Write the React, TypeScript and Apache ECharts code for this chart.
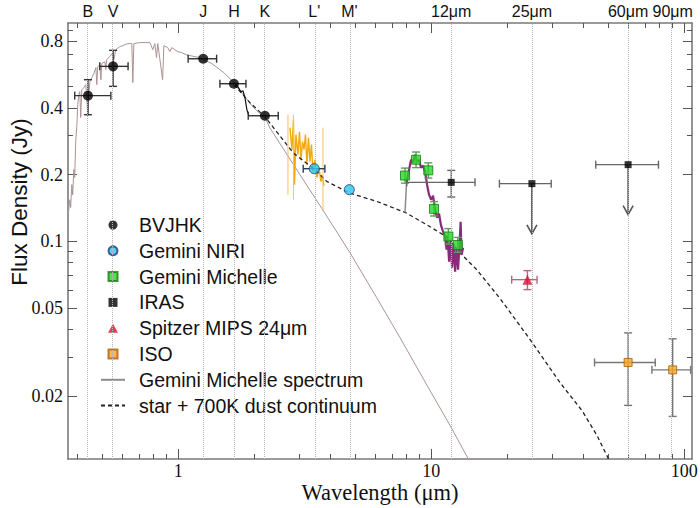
import React, { useEffect, useRef } from "react";
import * as echarts from "echarts";

// ---------- axes ----------
const X_MIN = 0.367;
const X_MAX = 107.3;
const Y_MIN = 0.01036;
const Y_MAX = 0.969;
const X_LABEL_TICKS = [1, 10, 100];
const X_MINOR_TICKS = [0.4, 0.5, 0.6, 0.7, 0.8, 0.9, 2, 3, 4, 5, 6, 7, 8, 9, 20, 30, 40, 50, 60, 70, 80, 90];
const Y_LABEL_TICKS = [0.02, 0.05, 0.1, 0.2, 0.4, 0.8];
const Y_MINOR_TICKS = [0.03, 0.04, 0.06, 0.07, 0.08, 0.09, 0.3, 0.5, 0.6, 0.7, 0.9];
const FILTER_NAMES = ["B", "V", "J", "H", "K", "L'", "M'", "12μm", "25μm", "60μm", "90μm"];
const FILTER_WAVES = [0.44, 0.553, 1.256, 1.661, 2.202, 3.45, 4.75, 12, 25, 60, 90];

// ---------- photometry ----------
const BVJHK_WAVE = [0.44, 0.553, 1.256, 1.661, 2.202];
const BVJHK_FLUX = [0.455, 0.617, 0.668, 0.515, 0.369];
const BVJHK_XLO = [0.39, 0.49, 1.095, 1.462, 1.892];
const BVJHK_XHI = [0.542, 0.634, 1.419, 1.853, 2.486];
const BVJHK_YLO = [0.373, 0.501, 0.668, 0.515, 0.369];
const BVJHK_YHI = [0.537, 0.729, 0.668, 0.515, 0.369];

const NIRI_WAVE = [3.45, 4.746];
const NIRI_FLUX = [0.2127, 0.171];
const NIRI_XLO = [3.12, 4.746];
const NIRI_XHI = [3.8, 4.746];

const MICH_WAVE = [7.88, 8.71, 9.74, 10.26, 11.69, 12.74];
const MICH_FLUX = [0.198, 0.2335, 0.209, 0.14, 0.105, 0.0961];
const MICH_YLO = [0.183, 0.215, 0.193, 0.13, 0.097, 0.089];
const MICH_YHI = [0.214, 0.253, 0.226, 0.151, 0.114, 0.104];

const IRAS_WAVE = [12, 25, 60];
const IRAS_FLUX = [0.1845, 0.182, 0.2218];
const IRAS_XLO = [8.0, 18.6, 44.7];
const IRAS_XHI = [14.9, 29.8, 79.1];
const IRAS_YLO = [0.1584, 0.182, 0.2218];
const IRAS_YHI = [0.209, 0.182, 0.2218];
const IRAS_LIMIT_WAVE = [25, 60];
const IRAS_LIMIT_FROM = [0.182, 0.2218];
const IRAS_LIMIT_TO = [0.108, 0.1318];

const MIPS_WAVE = [24.0];
const MIPS_FLUX = [0.067];
const MIPS_XLO = [20.8];
const MIPS_XHI = [26.2];
const MIPS_YLO = [0.0604];
const MIPS_YHI = [0.0736];

const ISO_WAVE = [60, 90];
const ISO_FLUX = [0.0283, 0.0262];
const ISO_XLO = [44.2, 74.5];
const ISO_XHI = [76.8, 106];
const ISO_YLO = [0.0181, 0.01614];
const ISO_YHI = [0.0385, 0.0362];

// ---------- spectra / models ----------
const PHOT_WAVE = [0.368, 0.373, 0.376, 0.38, 0.383, 0.387, 0.39, 0.394, 0.398, 0.401, 0.405, 0.4085, 0.412, 0.416, 0.424, 0.4315, 0.4355, 0.4395, 0.4435, 0.448, 0.456, 0.464, 0.473, 0.477, 0.481, 0.49, 0.495, 0.499, 0.513, 0.518, 0.522, 0.537, 0.552, 0.557, 0.567, 0.588, 0.604, 0.616, 0.633, 0.656, 0.662, 0.668, 0.687, 0.706, 0.773, 0.794, 0.809, 0.821, 0.831, 0.868, 0.878, 0.91, 0.927, 0.944, 0.97, 0.997, 1.034, 1.073, 1.112, 1.164, 1.218, 1.252, 1.311, 1.359, 1.41, 1.462, 1.516, 1.572, 1.631, 1.691, 1.754, 1.819, 1.886, 1.956, 2.029, 2.104, 2.202, 2.305, 3.029, 3.691, 4.776, 6.092, 7.53, 9.897, 11.87, 13.99, 14.91];
const PHOT_FLUX = [0.133, 0.154, 0.142, 0.18, 0.162, 0.211, 0.194, 0.288, 0.336, 0.414, 0.46, 0.474, 0.362, 0.484, 0.494, 0.51, 0.436, 0.369, 0.46, 0.526, 0.549, 0.572, 0.609, 0.51, 0.615, 0.628, 0.537, 0.635, 0.648, 0.596, 0.662, 0.683, 0.712, 0.662, 0.734, 0.758, 0.765, 0.773, 0.782, 0.782, 0.521, 0.782, 0.786, 0.79, 0.79, 0.734, 0.782, 0.676, 0.782, 0.537, 0.765, 0.75, 0.719, 0.75, 0.734, 0.719, 0.712, 0.697, 0.69, 0.683, 0.676, 0.662, 0.648, 0.635, 0.615, 0.596, 0.578, 0.554, 0.532, 0.505, 0.479, 0.455, 0.432, 0.41, 0.393, 0.377, 0.362, 0.325, 0.2, 0.141, 0.0887, 0.0555, 0.0366, 0.0211, 0.0147, 0.0104, 0.0091];

const DUST_WAVE = [1.661, 1.921, 2.202, 2.85, 3.472, 3.863, 4.746, 6.092, 7.882, 9.604, 11.52, 13.01, 15.14, 18.72, 24.6, 32.33, 39.48, 45.26, 50.2];
const DUST_FLUX = [0.51, 0.4228, 0.3655, 0.2505, 0.2105, 0.1864, 0.1652, 0.1513, 0.135, 0.1187, 0.1045, 0.0884, 0.0743, 0.055, 0.0359, 0.0229, 0.01713, 0.0132, 0.01036];

const NIR_WAVE = [1.661, 1.722, 1.77, 1.803, 1.836, 1.869, 1.904];
const NIR_FLUX = [0.521, 0.4995, 0.474, 0.479, 0.4454, 0.393, 0.369];

const MSPEC_LINE_WAVE = [7.88, 7.99];
const MSPEC_LINE_FLUX = [0.135, 0.184];

const MSPEC_WAVE = [7.989, 8.174, 8.325, 8.478, 8.634, 8.79, 8.954, 9.119, 9.287, 9.456, 9.63, 9.806, 9.986, 10.17, 10.36, 10.55, 10.74, 10.94, 11.14, 11.34, 11.5, 11.6, 11.77, 11.93, 12.09, 12.26, 12.43, 12.6, 12.77, 12.95, 13.07, 13.18, 13.37];
const MSPEC_FLUX = [0.1839, 0.2105, 0.2336, 0.2264, 0.246, 0.2288, 0.2336, 0.2149, 0.2194, 0.2062, 0.1801, 0.1623, 0.154, 0.1606, 0.1388, 0.1277, 0.1331, 0.1175, 0.1104, 0.1059, 0.0915, 0.1059, 0.0808, 0.1016, 0.0759, 0.0974, 0.0728, 0.0935, 0.0743, 0.0995, 0.1225, 0.0869, 0.0935];

const ISOSPEC_WAVE = [2.765, 2.817, 2.855, 2.882, 2.921, 2.975, 3.016, 3.057, 3.1, 3.142, 3.185, 3.228, 3.273, 3.318, 3.363, 3.409, 3.472, 3.536, 3.601, 3.667, 3.718, 3.769];
const ISOSPEC_FLUX = [0.326, 0.2593, 0.3543, 0.1801, 0.303, 0.246, 0.3126, 0.2336, 0.2818, 0.2593, 0.303, 0.2218, 0.2937, 0.2288, 0.2732, 0.2062, 0.2336, 0.1937, 0.2149, 0.1858, 0.1978, 0.1782];
const ISOSPEC_ERR_WAVE = [2.716, 2.855, 3.736];
const ISOSPEC_ERR_LO = [0.162, 0.154, 0.136];
const ISOSPEC_ERR_HI = [0.373, 0.373, 0.326];

// ---------- helpers ----------
const lg = Math.log10;
const SANS = '"Liberation Sans", Arial, Helvetica, sans-serif';
const SERIF = '"Liberation Serif", "Times New Roman", serif';
const AXIS_COLOR = "#7a7a7a";
const TICK_COLOR = "#555";
const SQUARE_ICON = "path://M0,0L10,0L10,10L0,10Z";
const TRIANGLE_ICON = "path://M5,0L10,9L0,9Z";

const pairs = (xs: number[], ys: number[]) => xs.map((x, i) => [lg(x), lg(ys[i])]);
const errRows = (xs: number[], ys: number[], xlo?: number[], xhi?: number[], ylo?: number[], yhi?: number[]) =>
  xs.map((x, i) => [
    lg(x), lg(ys[i]),
    lg(xlo ? xlo[i] : x), lg(xhi ? xhi[i] : x),
    lg(ylo ? ylo[i] : ys[i]), lg(yhi ? yhi[i] : ys[i]),
  ]);

const errRender = (color: string, cap: number, width: number) => (params: any, api: any) => {
  const x = api.value(0), y = api.value(1);
  const xlo = api.value(2), xhi = api.value(3), ylo = api.value(4), yhi = api.value(5);
  const st = { stroke: color, lineWidth: width };
  const ch: any[] = [];
  if (xhi - xlo > 1e-9) {
    const a = api.coord([xlo, y]), b = api.coord([xhi, y]);
    ch.push({ type: "line", shape: { x1: a[0], y1: a[1], x2: b[0], y2: b[1] }, style: st });
    if (cap > 0) {
      ch.push({ type: "line", shape: { x1: a[0], y1: a[1] - cap, x2: a[0], y2: a[1] + cap }, style: st });
      ch.push({ type: "line", shape: { x1: b[0], y1: b[1] - cap, x2: b[0], y2: b[1] + cap }, style: st });
    }
  }
  if (yhi - ylo > 1e-9) {
    const a = api.coord([x, ylo]), b = api.coord([x, yhi]);
    ch.push({ type: "line", shape: { x1: a[0], y1: a[1], x2: b[0], y2: b[1] }, style: st });
    if (cap > 0) {
      ch.push({ type: "line", shape: { x1: a[0] - cap, y1: a[1], x2: a[0] + cap, y2: a[1] }, style: st });
      ch.push({ type: "line", shape: { x1: b[0] - cap, y1: b[1], x2: b[0] + cap, y2: b[1] }, style: st });
    }
  }
  return { type: "group", children: ch };
};

const arrowRender = (color: string) => (params: any, api: any) => {
  const a = api.coord([api.value(0), api.value(1)]);
  const b = api.coord([api.value(0), api.value(2)]);
  const st = { stroke: color, lineWidth: 1.6, fill: "none" };
  return {
    type: "group",
    children: [
      { type: "line", shape: { x1: a[0], y1: a[1], x2: b[0], y2: b[1] }, style: st },
      { type: "polyline", shape: { points: [[b[0] - 5, b[1] - 9], [b[0], b[1]], [b[0] + 5, b[1] - 9]] }, style: st },
    ],
  };
};

const errSeries = (name: string, data: number[][], color: string, cap = 4, width = 1.4) => ({
  type: "custom",
  name,
  renderItem: errRender(color, cap, width),
  data,
  encode: { x: 0, y: 1 },
  clip: true,
  silent: true,
  z: 4,
});

const nearestFilter = (v: number) => {
  let best = 0;
  FILTER_WAVES.forEach((w, i) => {
    if (Math.abs(lg(w) - v) < Math.abs(lg(FILTER_WAVES[best]) - v)) best = i;
  });
  return FILTER_NAMES[best];
};

const LXMIN = lg(X_MIN), LXMAX = lg(X_MAX), LYMIN = lg(Y_MIN), LYMAX = lg(Y_MAX);
const tickLine = { color: TICK_COLOR, width: 1 };
const axLine = { show: true, onZero: false, lineStyle: { color: AXIS_COLOR, width: 1.6 } };
const noLine = { show: false, onZero: false };

const xBase = { type: "value", min: LXMIN, max: LXMAX, splitLine: { show: false } };
const yBase = { type: "value", min: LYMIN, max: LYMAX, splitLine: { show: false } };

const option: any = {
  animation: false,
  backgroundColor: "#ffffff",
  grid: { left: 68, right: 8, top: 23, bottom: 49, containLabel: false, outerBoundsMode: "none" },
  graphic: [
    {
      type: "text",
      x: 19,
      y: 202,
      rotation: Math.PI / 2,
      style: { text: "Flux Density (Jy)", fontFamily: SANS, fontSize: 22.5, fill: "#111", textAlign: "center", textVerticalAlign: "middle" },
      silent: true,
    },
    {
      type: "text",
      x: 380,
      y: 492,
      style: { text: "Wavelength (μm)", fontFamily: SERIF, fontSize: 22.5, fill: "#111", textAlign: "center", textVerticalAlign: "middle" },
      silent: true,
    },
  ],
  xAxis: [
    {
      ...xBase, position: "bottom", axisLine: axLine,
      axisTick: { show: true, inside: true, length: 5, customValues: X_MINOR_TICKS.map(lg), lineStyle: tickLine },
      axisLabel: { show: true, customValues: X_LABEL_TICKS.map(lg), formatter: (v: number) => String(Math.round(Math.pow(10, v))), fontFamily: SERIF, fontSize: 18, color: "#111", margin: 3 },
    },
    {
      ...xBase, position: "bottom", axisLine: noLine,
      axisTick: { show: true, inside: true, length: 10, customValues: X_LABEL_TICKS.map(lg), lineStyle: tickLine },
      axisLabel: { show: false },
    },
    {
      ...xBase, position: "top", axisLine: axLine,
      axisTick: { show: true, inside: true, length: 5, customValues: X_MINOR_TICKS.map(lg), lineStyle: tickLine },
      axisLabel: { show: true, customValues: FILTER_WAVES.map(lg), formatter: nearestFilter, fontFamily: SANS, fontSize: 16, color: "#111", margin: 4 },
    },
    {
      ...xBase, position: "top", axisLine: noLine,
      axisTick: { show: true, inside: true, length: 10, customValues: X_LABEL_TICKS.map(lg), lineStyle: tickLine },
      axisLabel: { show: false },
    },
  ],
  yAxis: [
    {
      ...yBase, position: "left", axisLine: axLine,
      axisTick: { show: true, inside: true, length: 5, customValues: Y_MINOR_TICKS.map(lg), lineStyle: tickLine },
      axisLabel: { show: true, customValues: Y_LABEL_TICKS.map(lg), formatter: (v: number) => String(+Math.pow(10, v).toPrecision(2)), fontFamily: SERIF, fontSize: 18, color: "#111", margin: 5 },
    },
    {
      ...yBase, position: "left", axisLine: noLine,
      axisTick: { show: true, inside: true, length: 9, customValues: Y_LABEL_TICKS.map(lg), lineStyle: tickLine },
      axisLabel: { show: false },
    },
    {
      ...yBase, position: "right", axisLine: axLine,
      axisTick: { show: true, inside: true, length: 5, customValues: Y_MINOR_TICKS.map(lg), lineStyle: tickLine },
      axisLabel: { show: false },
    },
    {
      ...yBase, position: "right", axisLine: noLine,
      axisTick: { show: true, inside: true, length: 9, customValues: Y_LABEL_TICKS.map(lg), lineStyle: tickLine },
      axisLabel: { show: false },
    },
  ],
  legend: {
    orient: "vertical",
    left: 100,
    top: 215,
    padding: 0,
    itemWidth: 24,
    itemHeight: 9,
    itemGap: 5.8,
    selectedMode: false,
    textStyle: { fontFamily: SANS, fontSize: 19.5, color: "#111", lineHeight: 20, padding: [0, 0, 0, 9] },
    data: [
      { name: "BVJHK", icon: "circle" },
      { name: "Gemini NIRI", icon: "circle" },
      { name: "Gemini Michelle", icon: SQUARE_ICON },
      { name: "IRAS", icon: SQUARE_ICON },
      { name: "Spitzer MIPS 24μm", icon: TRIANGLE_ICON },
      { name: "ISO", icon: SQUARE_ICON },
      { name: "Gemini Michelle spectrum", itemStyle: { opacity: 0 } },
      { name: "star + 700K dust continuum", itemStyle: { opacity: 0 } },
    ],
  },
  series: [
    {
      type: "line", name: "photosphere", data: pairs(PHOT_WAVE, PHOT_FLUX), symbol: "none",
      lineStyle: { color: "#ab9393", width: 1 }, itemStyle: { color: "#ab9393" }, z: 2, silent: true,
      markLine: {
        silent: true, symbol: ["none", "none"], label: { show: false },
        lineStyle: { type: "dotted", color: "#b5b5b5", width: 1 },
        data: FILTER_WAVES.map((w) => ({ xAxis: lg(w) })),
      },
    },
    {
      type: "line", name: "ISO spectrum", data: pairs(ISOSPEC_WAVE, ISOSPEC_FLUX), symbol: "none",
      lineStyle: { color: "#f3a90d", width: 1.4 }, itemStyle: { color: "#f3a90d" }, z: 3, silent: true,
    },
    errSeries("ISO spectrum err", errRows(ISOSPEC_ERR_WAVE, ISOSPEC_ERR_LO.map((v, i) => Math.sqrt(v * ISOSPEC_ERR_HI[i])), undefined, undefined, ISOSPEC_ERR_LO, ISOSPEC_ERR_HI), "#f5c060", 0, 1),
    {
      type: "line", name: "star + 700K dust continuum", data: pairs(DUST_WAVE, DUST_FLUX), symbol: "none",
      lineStyle: { color: "#222", width: 1.3, type: [4, 3] }, itemStyle: { color: "#222" }, z: 3, silent: true,
    },
    {
      type: "line", name: "NIR spectrum", data: pairs(NIR_WAVE, NIR_FLUX), symbol: "none",
      lineStyle: { color: "#111", width: 1.2 }, itemStyle: { color: "#111" }, z: 3, silent: true,
    },
    {
      type: "line", name: "Gemini Michelle spectrum", data: pairs(MSPEC_LINE_WAVE, MSPEC_LINE_FLUX), symbol: "none",
      lineStyle: { color: "#8c8c8c", width: 1.5 }, itemStyle: { color: "#8c8c8c" }, z: 3, silent: true,
    },
    {
      type: "line", name: "Michelle spectrum band", data: pairs(MSPEC_WAVE, MSPEC_FLUX), symbol: "none",
      lineStyle: { color: "#8a2a7a", width: 2.2 }, itemStyle: { color: "#8a2a7a" }, z: 3, silent: true,
    },
    errSeries("BVJHK err", errRows(BVJHK_WAVE, BVJHK_FLUX, BVJHK_XLO, BVJHK_XHI, BVJHK_YLO, BVJHK_YHI), "#333"),
    errSeries("NIRI err", errRows(NIRI_WAVE, NIRI_FLUX, NIRI_XLO, NIRI_XHI), "#2a3a5c"),
    errSeries("Michelle err", errRows(MICH_WAVE, MICH_FLUX, undefined, undefined, MICH_YLO, MICH_YHI), "#5c9c5c"),
    errSeries("IRAS err", errRows(IRAS_WAVE, IRAS_FLUX, IRAS_XLO, IRAS_XHI, IRAS_YLO, IRAS_YHI), "#666"),
    errSeries("MIPS err", errRows(MIPS_WAVE, MIPS_FLUX, MIPS_XLO, MIPS_XHI, MIPS_YLO, MIPS_YHI), "#b06a80"),
    errSeries("ISO err", errRows(ISO_WAVE, ISO_FLUX, ISO_XLO, ISO_XHI, ISO_YLO, ISO_YHI), "#777"),
    {
      type: "custom", name: "IRAS limits", renderItem: arrowRender("#555"),
      data: IRAS_LIMIT_WAVE.map((w, i) => [lg(w), lg(IRAS_LIMIT_FROM[i]), lg(IRAS_LIMIT_TO[i])]),
      encode: { x: 0, y: 1 }, clip: true, silent: true, z: 4,
    },
    {
      type: "scatter", name: "BVJHK", data: pairs(BVJHK_WAVE, BVJHK_FLUX), symbol: "circle", symbolSize: 10,
      itemStyle: { color: "#000" }, z: 6, silent: true,
    },
    {
      type: "scatter", name: "Gemini NIRI", data: pairs(NIRI_WAVE, NIRI_FLUX), symbol: "circle", symbolSize: 10,
      itemStyle: { color: "#2ec6ee", borderColor: "#1b3d78", borderWidth: 1 }, z: 6, silent: true,
    },
    {
      type: "scatter", name: "Gemini Michelle", data: pairs(MICH_WAVE, MICH_FLUX), symbol: "rect", symbolSize: 9,
      itemStyle: { color: "#27d627", borderColor: "#167a16", borderWidth: 1 }, z: 6, silent: true,
    },
    {
      type: "scatter", name: "IRAS", data: pairs(IRAS_WAVE, IRAS_FLUX), symbol: "rect", symbolSize: 7,
      itemStyle: { color: "#000" }, z: 6, silent: true,
    },
    {
      type: "scatter", name: "Spitzer MIPS 24μm", data: pairs(MIPS_WAVE, MIPS_FLUX), symbol: "triangle", symbolSize: 10,
      itemStyle: { color: "#dc1035" }, z: 6, silent: true,
    },
    {
      type: "scatter", name: "ISO", data: pairs(ISO_WAVE, ISO_FLUX), symbol: "rect", symbolSize: 8,
      itemStyle: { color: "#f5a623", borderColor: "#a8600a", borderWidth: 1 }, z: 6, silent: true,
    },
  ],
};

export default function App() {
  const ref = useRef<HTMLDivElement>(null);
  useEffect(() => {
    if (!ref.current) return;
    const chart = echarts.init(ref.current, undefined, { renderer: "svg" });
    chart.setOption(option);
    return () => chart.dispose();
  }, []);
  return (
    <div
      ref={ref}
      style={{ position: "fixed", left: 0, top: 0, width: 700, height: 508, background: "#fff" }}
    />
  );
}
